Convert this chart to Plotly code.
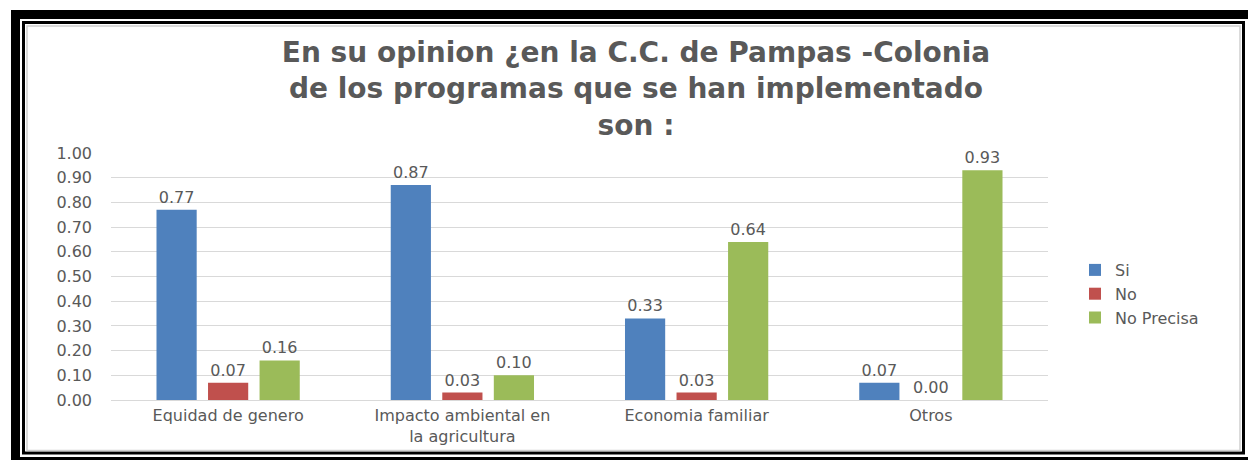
import plotly.graph_objects as go

# Chart data
categories = ["Equidad de genero", "Impacto ambiental en<br>la agricultura",
              "Economia familiar", "Otros"]
series_names = ["Si", "No", "No Precisa"]
si_values = [0.77, 0.87, 0.33, 0.07]
no_values = [0.07, 0.03, 0.03, 0.00]
no_precisa_values = [0.16, 0.10, 0.64, 0.93]
y_ticks = [0.0, 0.1, 0.2, 0.3, 0.4, 0.5, 0.6, 0.7, 0.8, 0.9, 1.0]
y_tick_labels = ["0.00", "0.10", "0.20", "0.30", "0.40", "0.50",
                 "0.60", "0.70", "0.80", "0.90", "1.00"]
title_text = ("En su opinion ¿en la C.C. de Pampas -Colonia<br>"
              "de los programas que se han implementado<br>son :")

colors = ["#4F81BD", "#C0504D", "#9BBB59"]
text_grey = "#595959"
font_family = "DejaVu Sans, Verdana, sans-serif"

W, H = 1248, 460
ML, MR, MT, MB = 111, 200, 153, 60
PW, PH = W - ML - MR, H - MT - MB


def px_x(x):
    return (x - ML) / PW


def px_y(y):
    return (H - MB - y) / PH


fig = go.Figure()
for name, vals, col in zip(series_names, [si_values, no_values, no_precisa_values], colors):
    fig.add_trace(go.Bar(
        name=name, x=categories, y=vals, marker_color=col, marker_line_width=0,
        text=[f"{v:.2f}" for v in vals], textposition="outside",
        textfont=dict(size=16, color=text_grey, family=font_family),
        cliponaxis=False,
    ))

# Frame around the chart
frame = []
# thick top and left bands, thin bottom band
frame.append(dict(type="rect", x0=px_x(11), x1=px_x(1248), y0=px_y(10), y1=px_y(19)))
frame.append(dict(type="rect", x0=px_x(11), x1=px_x(20), y0=px_y(10), y1=px_y(460)))
frame.append(dict(type="rect", x0=px_x(11), x1=px_x(1248), y0=px_y(457), y1=px_y(460)))
shapes = [dict(s, xref="paper", yref="paper", fillcolor="black", line=dict(width=0), layer="above")
          for s in frame]
# thin inner black outline
shapes.append(dict(type="rect", xref="paper", yref="paper",
                   x0=px_x(23.5), x1=px_x(1243.5), y0=px_y(22.5), y1=px_y(453),
                   line=dict(color="black", width=3), fillcolor="rgba(0,0,0,0)"))
# light grey chart-area border
shapes.append(dict(type="rect", xref="paper", yref="paper",
                   x0=px_x(27), x1=px_x(1240), y0=px_y(26), y1=px_y(450.5),
                   line=dict(color="#D0D0D0", width=1.5), fillcolor="rgba(0,0,0,0)"))

fig.update_layout(
    width=W, height=H,
    margin=dict(l=ML, r=MR, t=MT, b=MB),
    paper_bgcolor="white", plot_bgcolor="white",
    barmode="group", bargap=0.34, bargroupgap=0.22,
    title=dict(text=title_text, x=636 / W, xanchor="center",
               y=1 - 62 / H, yanchor="middle",
               font=dict(size=28, color=text_grey, family=font_family,
                         weight="bold")),
    legend=dict(x=px_x(1075), xanchor="left", y=px_y(294), yanchor="middle",
                font=dict(size=16, color=text_grey, family=font_family),
                bgcolor="rgba(0,0,0,0)", tracegroupgap=0),
    yaxis=dict(range=[0, 1.0], tickvals=y_ticks, ticktext=y_tick_labels,
               showgrid=True, gridcolor="#D9D9D9", gridwidth=1,
               zeroline=True, zerolinecolor="#D9D9D9", zerolinewidth=1,
               showline=False, ticks="", ticklabelstandoff=18,
               tickfont=dict(size=16, color=text_grey, family=font_family)),
    xaxis=dict(showline=False, ticks="", showgrid=False, ticklabelstandoff=4,
               tickfont=dict(size=16, color=text_grey, family=font_family)),
    shapes=shapes,
)

fig.write_html("out.html")
